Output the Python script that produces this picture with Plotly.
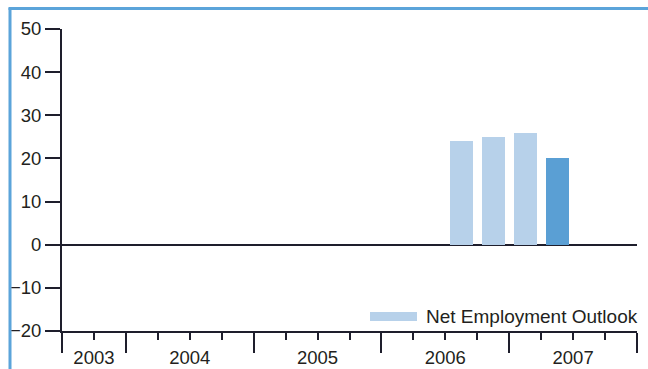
import plotly.graph_objects as go

# Quarterly net employment outlook (%)
quarters = ["Q3 2006", "Q4 2006", "Q1 2007", "Q2 2007"]
outlook = [24, 25, 26, 20]
bar_colors = ["#B7D1EA", "#B7D1EA", "#B7D1EA", "#5A9FD4"]

years = ["2003", "2004", "2005", "2006", "2007"]
y_ticks = [-20, -10, 0, 10, 20, 30, 40, 50]
series_name = "Net Employment Outlook"

W, H = 648, 369
ML, MR, MT, MB = 62, 11, 29, 38
PW, PH = W - ML - MR, H - MT - MB

X0, X1 = 2003.5, 2008.0


def quarter_pos(label):
    q, yr = label.split()
    return int(yr) + (int(q[1]) - 1) * 0.25 + 0.125


def px_x(px):
    return (px - ML) / PW


def px_y(py):
    return (H - MB - py) / PH


x_pos = [quarter_pos(q) for q in quarters]
year_centers = [max(int(y), X0) / 2 + (int(y) + 1) / 2 for y in years]
major = [X0] + [float(int(y) + 1) for y in years]
minor = [int(y) + f for y in years for f in (0.25, 0.5, 0.75) if X0 < int(y) + f < X1]

dark = "#1E1E2C"
text_col = "#231F20"
family = "Liberation Sans, Arial, sans-serif"
font = dict(family=family, size=18.5, color=text_col)
legend_font = dict(family=family, size=19, color=text_col)

fig = go.Figure()
fig.add_trace(go.Bar(
    x=x_pos, y=outlook, width=0.18, marker=dict(color=bar_colors, line=dict(width=0)),
    name=series_name, showlegend=False, hovertext=quarters,
))
# carrier for the centred year labels
fig.add_trace(go.Scatter(x=[None], y=[None], xaxis="x2", showlegend=False))

fig.update_layout(
    width=W, height=H,
    margin=dict(l=ML, r=MR, t=MT, b=MB),
    paper_bgcolor="white", plot_bgcolor="white",
    font=font,
    bargap=0,
    xaxis=dict(
        range=[X0, X1], showgrid=False, zeroline=False, automargin=False,
        showline=True, linecolor=dark, linewidth=2,
        ticks="outside", tickmode="array", tickvals=major, ticklen=20,
        tickwidth=2, tickcolor=dark, showticklabels=False,
        minor=dict(tickmode="array", tickvals=minor, ticks="outside",
                   ticklen=7, tickwidth=2, tickcolor=dark, showgrid=False),
    ),
    xaxis2=dict(
        range=[X0, X1], overlaying="x", anchor="y", side="bottom",
        showgrid=False, zeroline=False, showline=False, automargin=False,
        tickmode="array", tickvals=year_centers, ticktext=years,
        ticks="outside", ticklen=10, tickcolor="rgba(0,0,0,0)",
        tickfont=font,
    ),
    yaxis=dict(
        range=[-20, 50], showgrid=False, automargin=False,
        zeroline=True, zerolinecolor=dark, zerolinewidth=2,
        showline=True, linecolor=dark, linewidth=2,
        ticks="outside", tickmode="array", tickvals=y_ticks, ticklen=15,
        tickwidth=2, tickcolor=dark, tickfont=font,
    ),
    shapes=[
        # frame edges
        dict(type="line", xref="paper", yref="paper",
             x0=px_x(10), x1=px_x(10), y0=px_y(8), y1=px_y(H + 2),
             line=dict(color="#5BA4DA", width=3)),
        dict(type="line", xref="paper", yref="paper",
             x0=px_x(8.5), x1=px_x(W + 2), y0=px_y(8.5), y1=px_y(8.5),
             line=dict(color="#5BA4DA", width=3)),
        # legend swatch
        dict(type="rect", xref="paper", yref="paper",
             x0=px_x(370), x1=px_x(417), y0=px_y(321), y1=px_y(312),
             fillcolor=bar_colors[0], line=dict(width=0)),
    ],
    annotations=[
        dict(xref="paper", yref="paper", x=px_x(424), y=px_y(316.5),
             xanchor="left", yanchor="middle", text=series_name,
             showarrow=False, font=legend_font),
    ],
)

fig.write_html("out.html")
